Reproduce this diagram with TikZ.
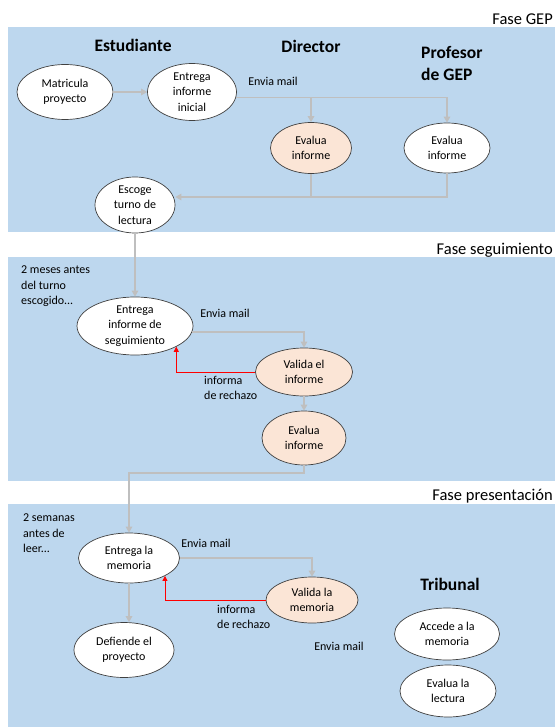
\documentclass[tikz,border=0pt]{standalone}
\usepackage{fontspec}
\setmainfont{Carlito}
\usetikzlibrary{shapes.geometric,arrows.meta,calc}
\definecolor{panelc}{HTML}{BDD7EE}
\definecolor{peachc}{HTML}{FBE5D6}
\definecolor{connc}{HTML}{BFBFBF}
\tikzset{
  ell/.style={ellipse, draw=black!75, line width=0.7pt, fill=white, inner sep=-1.5pt, align=center, font=\fontsize{12}{15.5}\selectfont},
  peach/.style={fill=peachc},
  conn/.style={draw=connc, line width=1.5pt, -{Triangle[width=6.5pt,length=6pt,fill=connc]}},
  rej/.style={draw=red, line width=0.8pt, -{Triangle[width=5pt,length=5pt]}},
  lbl/.style={font=\fontsize{12}{15.5}\selectfont, align=left, inner sep=0pt},
  hdr/.style={font=\fontsize{17.5}{22}\selectfont\bfseries, align=left, inner sep=0pt},
  fase/.style={font=\fontsize{16.5}{19}\selectfont, inner sep=0pt, anchor=east},
  panel/.style={fill=panelc, draw=none}
}
\begin{document}
\begin{tikzpicture}[x=1pt,y=-1pt]
\useasboundingbox (0,0) rectangle (555,727);
\fill[white] (0,0) rectangle (555,727);
% panels
\path[panel] (8,27) rectangle (555,232);
\path[panel] (8,257) rectangle (555,481);
\path[panel] (8,504) rectangle (555,727);
\node[fase] (f1) at (553,19) {Fase GEP};
\node[fase] (f2) at (553,250) {Fase seguimiento};
\node[fase] (f3) at (553,496) {Fase presentación};
% headers
\node[hdr] (hest) at (133,45) {Estudiante};
\node[hdr] (hdir) at (311,46) {Director};
\node[hdr, anchor=west] (hprof) at (421,63) {Profesor\\de GEP};
\node[hdr] (htri) at (450,584) {Tribunal};
% phase 1 nodes
\node[ell, minimum width=96pt, minimum height=55pt] (mat) at (65,92) {Matricula\\proyecto};
\node[ell, minimum width=89pt, minimum height=57pt] (ent1) at (192,92) {Entrega\\informe\\inicial};
\node[ell, peach, minimum width=81pt, minimum height=51pt] (evd) at (311,148) {Evalua\\informe};
\node[ell, minimum width=86pt, minimum height=50pt] (evp) at (447,148) {Evalua\\informe};
\node[ell, minimum width=80pt, minimum height=56pt] (esc) at (135,205) {Escoge\\turno de\\lectura};
\node[lbl] (m1) at (273,81) {Envia mail};
\coordinate (j1) at (447,197);
\draw[conn] (mat) -- (ent1);
\draw[conn] (ent1.-7) -| (evd.north);
\draw[conn] (ent1.-7) -| (evp.north);
\draw[draw=connc, line width=1.5pt] (evd.south) -- (evd.south |- j1);
\draw[conn] (evp.south) -- (j1) -- (esc.east |- j1);
% phase 2
\node[lbl, anchor=north west] (t2) at (21,266) {2 meses antes\\del turno\\escogido...};
\node[ell, minimum width=116pt, minimum height=58pt] (ents) at (135,326) {Entrega\\informe de\\seguimiento};
\node[ell, peach, minimum width=97pt, minimum height=48pt] (val) at (304,372) {Valida el\\informe};
\node[ell, peach, minimum width=84pt, minimum height=54pt] (eva) at (304,438) {Evalua\\informe};
\node[lbl] (m2) at (225,313) {Envia mail};
\node[lbl, anchor=north west] (r2) at (204,376) {informa\\de rechazo};
\draw[conn] (esc.south) -- (ents.north);
\draw[conn] (ents.-6) -| (val.north);
\draw[rej] (val.west) -| (ents.south east);
\draw[conn] (val.south) -- (eva.north);
% phase 3
\node[lbl, anchor=north west] (t3) at (23,514) {2 semanas\\antes de\\leer...};
\node[ell, minimum width=101pt, minimum height=50pt] (entm) at (129,558) {Entrega la\\memoria};
\node[ell, peach, minimum width=92pt, minimum height=46pt] (valm) at (312,600) {Valida la\\memoria};
\node[ell, minimum width=100pt, minimum height=55pt] (def) at (124,650) {Defiende el\\proyecto};
\node[ell, minimum width=105pt, minimum height=52pt] (acc) at (447,634) {Accede a la\\memoria};
\node[ell, minimum width=96pt, minimum height=52pt] (evl) at (448,691) {Evalua la\\lectura};
\node[lbl] (m3) at (206,543) {Envia mail};
\node[lbl, anchor=north west] (r3) at (217,605) {informa\\de rechazo};
\node[lbl] (m4) at (339,646) {Envia mail};
\coordinate (j2) at (304,473);
\draw[conn] (eva.south) -- (j2) -| (entm.north);
\draw[conn] (entm.east) -| (valm.north);
\draw[rej] (valm.west) -| (entm.south east);
\draw[conn] (entm.south) -- (entm.south |- def.north);
\end{tikzpicture}
\end{document}
